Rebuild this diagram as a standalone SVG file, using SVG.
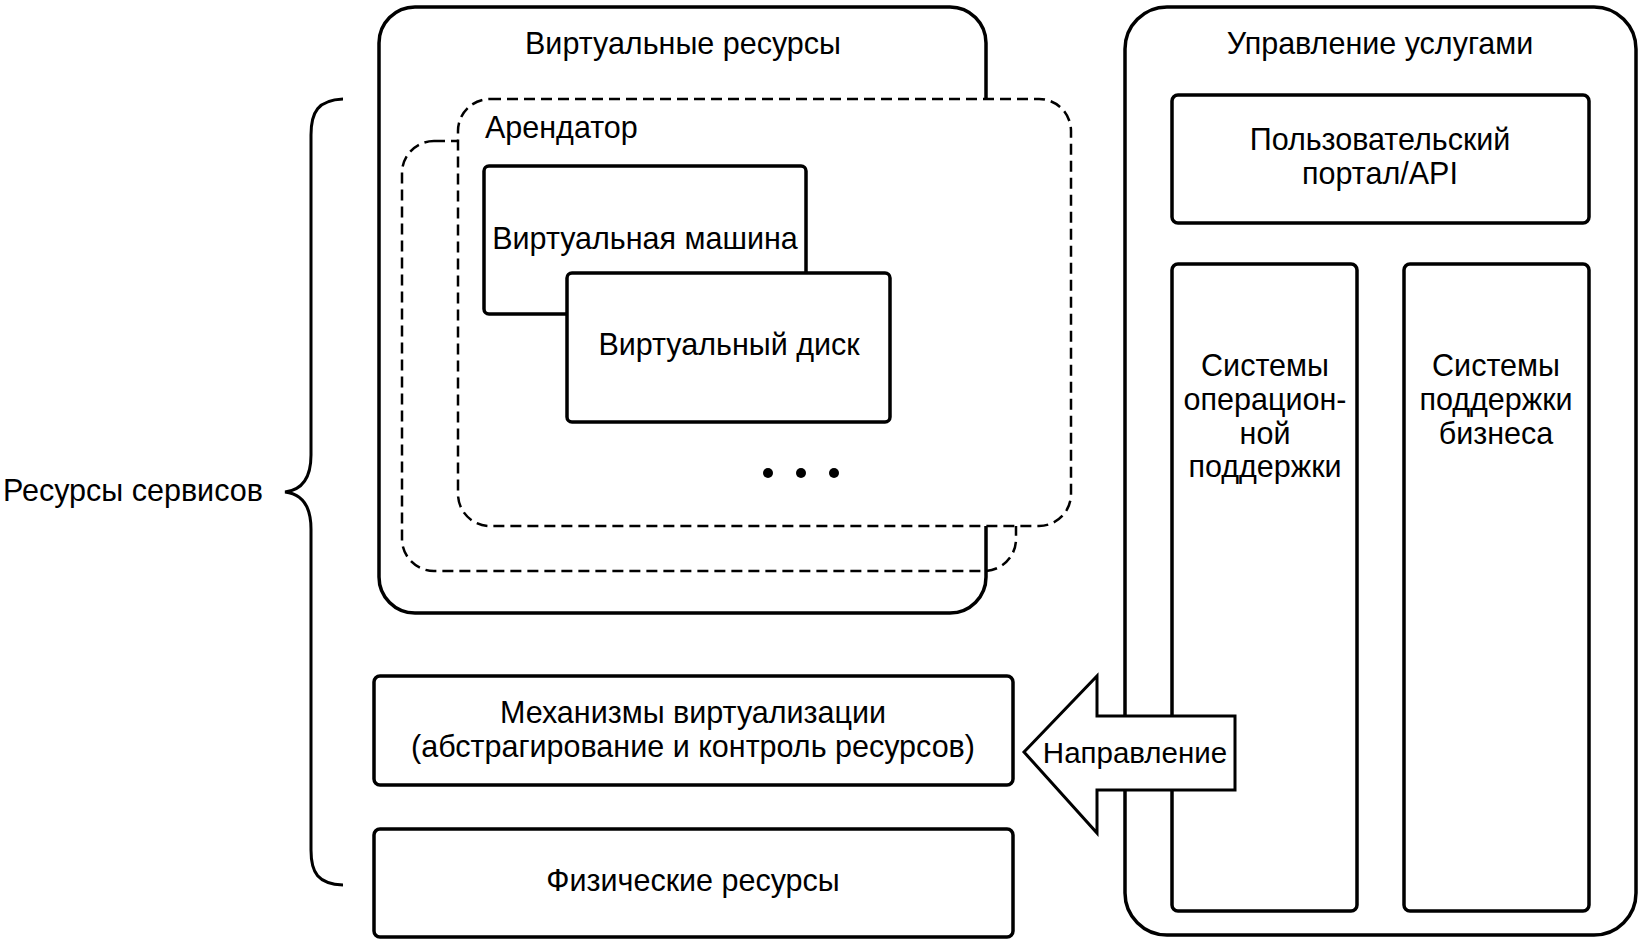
<svg xmlns="http://www.w3.org/2000/svg" width="1642" height="944" viewBox="0 0 1642 944">
<style>
  text { font-family: "Liberation Sans", Arial, sans-serif; font-size: 30.5px; fill: #000; }
  .c { text-anchor: middle; }
  .box { fill: #fff; stroke: #000; stroke-width: 3.5; }
  .dash { stroke: #000; stroke-width: 2.5; stroke-dasharray: 11 6; }
  .line { fill: none; stroke: #000; stroke-width: 3; }
</style>
<rect width="1642" height="944" fill="#fff"/>

<g id="brace">
  <path class="line" d="M343,99 C318,100 311,112 311,135 L311,455 C311,478 302,490 285,492 C302,494 311,506 311,529 L311,850 C311,873 318,884 343,885"/>
  <text x="3" y="501">Ресурсы сервисов</text>
</g>

<g id="virtual-resources">
  <rect class="box" x="379" y="7" width="607" height="606" rx="36"/>
  <text class="c" x="683" y="54">Виртуальные ресурсы</text>
</g>

<g id="tenant-back">
  <rect class="dash" fill="none" x="402" y="141" width="614" height="430" rx="32"/>
</g>

<g id="tenant">
  <rect class="dash" fill="#fff" x="458" y="99" width="613" height="427" rx="32"/>
  <text x="485" y="138">Арендатор</text>
</g>

<g id="vm">
  <rect class="box" x="484" y="166" width="322" height="148" rx="5"/>
  <text class="c" x="645" y="249">Виртуальная машина</text>
</g>

<g id="vdisk">
  <rect class="box" x="567" y="273" width="323" height="149" rx="5"/>
  <text class="c" x="729" y="355">Виртуальный диск</text>
</g>

<g id="dots">
  <circle cx="768" cy="473" r="5"/>
  <circle cx="801" cy="473" r="5"/>
  <circle cx="834" cy="473" r="5"/>
</g>

<g id="virtualization">
  <rect class="box" x="374" y="676" width="639" height="109" rx="6"/>
  <text class="c" x="693" y="723">Механизмы виртуализации</text>
  <text class="c" x="693" y="757">(абстрагирование и контроль ресурсов)</text>
</g>

<g id="physical">
  <rect class="box" x="374" y="829" width="639" height="108" rx="6"/>
  <text class="c" x="693" y="891">Физические ресурсы</text>
</g>

<g id="service-management">
  <rect class="box" x="1125" y="7" width="511" height="928" rx="42"/>
  <text class="c" x="1380" y="54">Управление услугами</text>
</g>

<g id="portal">
  <rect class="box" x="1172" y="95" width="417" height="128" rx="6"/>
  <text class="c" x="1380" y="150">Пользовательский</text>
  <text class="c" x="1380" y="184">портал/API</text>
</g>

<g id="oss">
  <rect class="box" x="1172" y="264" width="185" height="647" rx="6"/>
  <text class="c" x="1265" y="376">Системы</text>
  <text class="c" x="1265" y="410">операцион-</text>
  <text class="c" x="1265" y="444">ной</text>
  <text class="c" x="1265" y="477">поддержки</text>
</g>

<g id="bss">
  <rect class="box" x="1404" y="264" width="185" height="647" rx="6"/>
  <text class="c" x="1496" y="376">Системы</text>
  <text class="c" x="1496" y="410">поддержки</text>
  <text class="c" x="1496" y="444">бизнеса</text>
</g>

<g id="connectors">
  <g id="direction-arrow">
    <path fill="#fff" stroke="#000" stroke-width="3" stroke-linejoin="miter" d="M1024,752 L1097,676 L1097,716 L1235,716 L1235,790 L1097,790 L1097,833 Z"/>
    <text class="c" x="1135" y="763" style="font-size:29.5px">Направление</text>
  </g>
</g>
</svg>
